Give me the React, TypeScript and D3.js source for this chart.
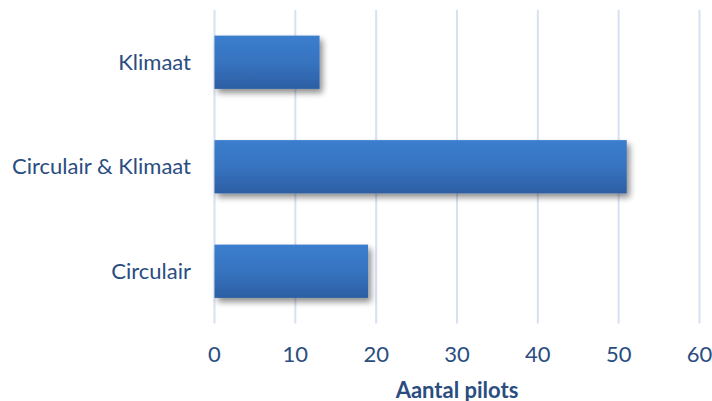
import React from "react";
import * as d3 from "d3";

const categories = ["Klimaat", "Circulair & Klimaat", "Circulair"];
const values = [13, 51, 19];
const xTicks = [0, 10, 20, 30, 40, 50, 60];
const axisTitle = "Aantal pilots";

const W = 712;
const H = 401;
const FONT = "Lato, 'Open Sans', sans-serif";
const TEXT = "#2A4D7F";

export default function App() {
  const x = d3.scaleLinear().domain([0, 60]).range([214.5, 699.5]);
  const y = d3
    .scaleBand<string>()
    .domain(categories)
    .range([10, 323.5])
    .paddingInner(0.49)
    .paddingOuter(0.245);

  return (
    <svg
      width={W}
      height={H}
      style={{ position: "absolute", left: 0, top: 0, background: "#fff" }}
    >
      <defs>
        <linearGradient id="barFill" x1="0" y1="0" x2="0" y2="1">
          <stop offset="0" stopColor="#3B7ECE" />
          <stop offset="0.5" stopColor="#3773C0" />
          <stop offset="1" stopColor="#2C5FA3" />
        </linearGradient>
        <filter id="barShadow" x="-10%" y="-20%" width="130%" height="160%">
          <feGaussianBlur in="SourceAlpha" stdDeviation="3" />
          <feOffset dx="3" dy="4" result="blur" />
          <feComponentTransfer>
            <feFuncA type="linear" slope="0.45" />
          </feComponentTransfer>
          <feMerge>
            <feMergeNode />
            <feMergeNode in="SourceGraphic" />
          </feMerge>
        </filter>
      </defs>

      {/* vertical gridlines */}
      {xTicks.map((t) => (
        <line
          key={t}
          x1={x(t)}
          x2={x(t)}
          y1={10}
          y2={323.5}
          stroke="#D6E2F1"
          strokeWidth={2}
        />
      ))}

      {/* bars */}
      {categories.map((c, i) => (
        <rect
          key={c}
          x={x(0)}
          y={y(c)}
          width={x(values[i]) - x(0)}
          height={y.bandwidth()}
          fill="url(#barFill)"
          filter="url(#barShadow)"
        />
      ))}

      {/* category labels */}
      {categories.map((c) => (
        <text
          key={c}
          x={191}
          y={(y(c) ?? 0) + y.bandwidth() / 2}
          dy="0.35em"
          textAnchor="end"
          fontFamily={FONT}
          fontSize={22}
          fill={TEXT}
        >
          {c}
        </text>
      ))}

      {/* x tick labels */}
      {xTicks.map((t) => (
        <text
          key={t}
          x={x(t)}
          y={362}
          textAnchor="middle"
          fontFamily={FONT}
          fontSize={22}
          fill={TEXT}
        >
          {t}
        </text>
      ))}

      <text
        x={457}
        y={398}
        textAnchor="middle"
        fontFamily={FONT}
        fontSize={22}
        fontWeight="bold"
        fill={TEXT}
      >
        {axisTitle}
      </text>
    </svg>
  );
}
